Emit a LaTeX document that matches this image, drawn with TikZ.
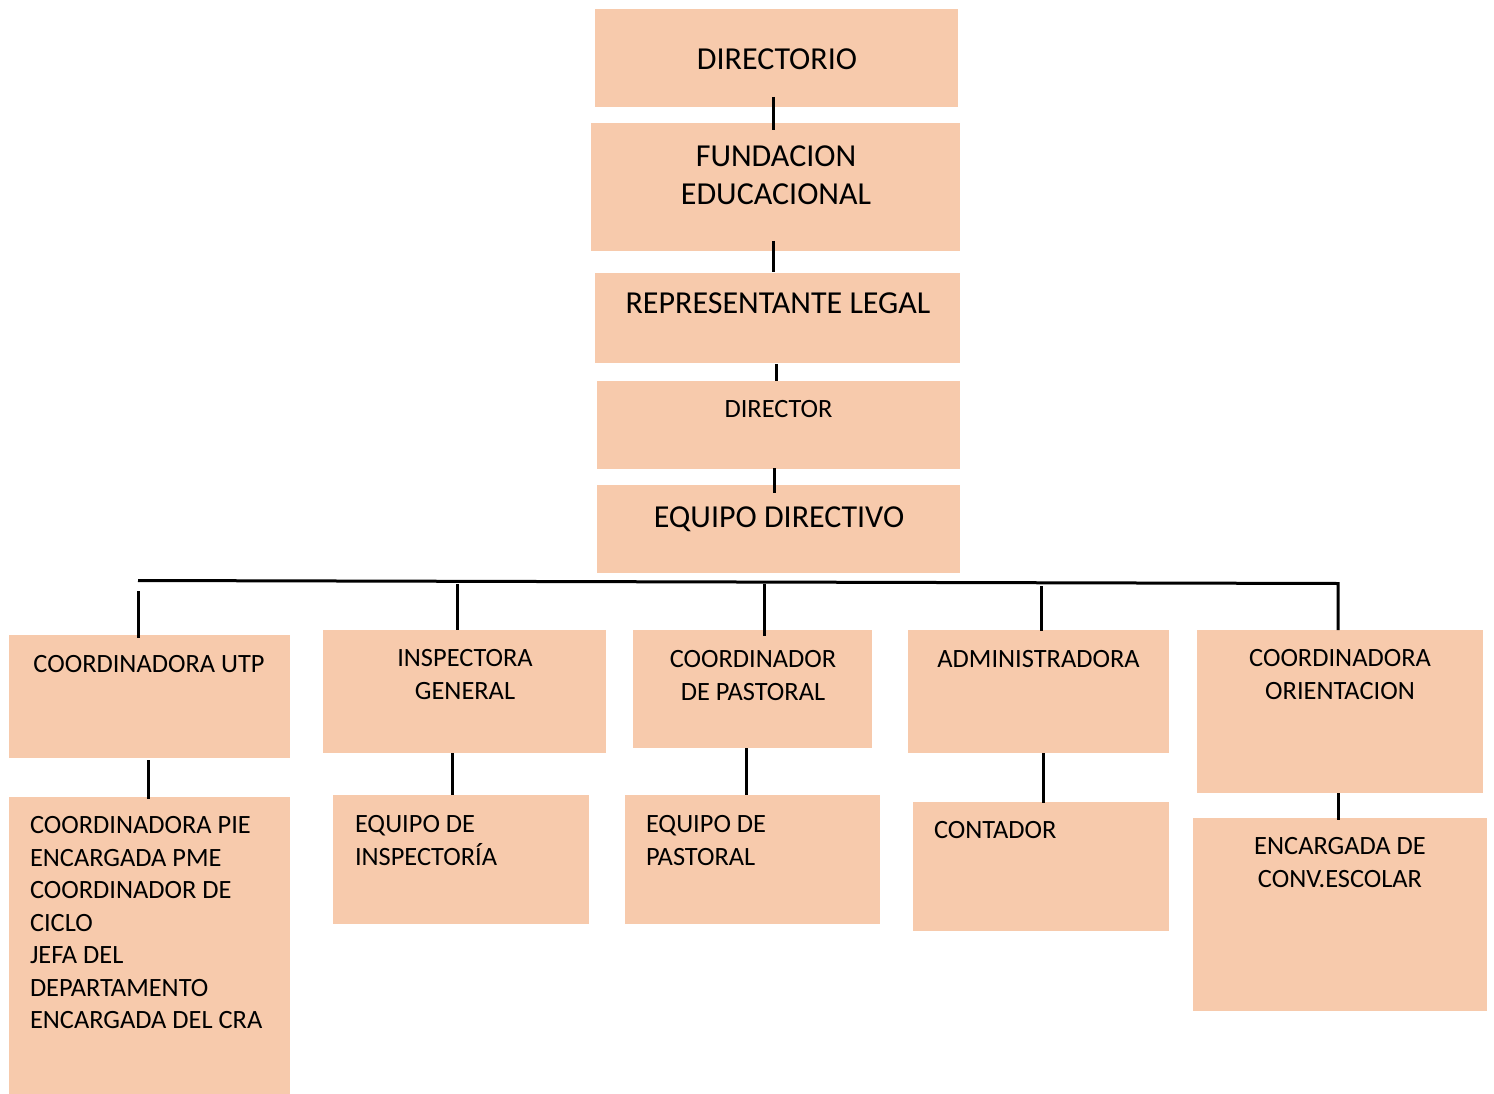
\documentclass[tikz,border=0pt]{standalone}
\usepackage{fontspec}
\setmainfont{Carlito}
\definecolor{boxc}{HTML}{F7CAAC}
\tikzset{
  box/.style={fill=boxc, draw=none, inner sep=0pt, outer sep=0pt},
  big/.style={font=\fontsize{32}{38}\selectfont, inner sep=0pt, outer sep=0pt},
  small/.style={font=\fontsize{26.4}{32.5}\selectfont, inner sep=0pt, outer sep=0pt},
  link/.style={line width=3pt, black}
}
\begin{document}
\begin{tikzpicture}[x=1pt, y=-1pt]
\useasboundingbox (0,0) rectangle (1494,1094);
% top chain boxes
\node[box, minimum width=363pt, minimum height=98pt]  (dir)  at (776.5,58) {};
\node[box, minimum width=369pt, minimum height=128pt] (fund) at (775.5,187) {};
\node[box, minimum width=365pt, minimum height=90pt]  (rep)  at (777.5,318) {};
\node[box, minimum width=363pt, minimum height=88pt]  (dtor) at (778.5,425) {};
\node[box, minimum width=363pt, minimum height=88pt]  (eqd)  at (778.5,529) {};
% second level
\node[box, minimum width=281pt, minimum height=123pt] (utp)  at (149.5,696.5) {};
\node[box, minimum width=283pt, minimum height=123pt] (insp) at (464.5,691.5) {};
\node[box, minimum width=239pt, minimum height=118pt] (cpas) at (752.5,689) {};
\node[box, minimum width=261pt, minimum height=123pt] (adm)  at (1038.5,691.5) {};
\node[box, minimum width=286pt, minimum height=163pt] (cori) at (1340,711.5) {};
% third level
\node[box, minimum width=281pt, minimum height=297pt] (pie)  at (149.5,945.5) {};
\node[box, minimum width=256pt, minimum height=129pt] (eins) at (461,859.5) {};
\node[box, minimum width=255pt, minimum height=129pt] (epas) at (752.5,859.5) {};
\node[box, minimum width=256pt, minimum height=129pt] (cont) at (1041,866.5) {};
\node[box, minimum width=294pt, minimum height=193pt] (conv) at (1340,914.5) {};

% texts
\node[big, anchor=north] (tdir) at (777,49) {DIRECTORIO};
\node[big, anchor=north, align=center] (tfund) at (776,145.5) {FUNDACION\\EDUCACIONAL};
\node[big, anchor=north] (trep) at (778,293) {REPRESENTANTE LEGAL};
\node[small, anchor=north] (tdtor) at (778.5,400) {DIRECTOR};
\node[big, anchor=north] (teqd) at (779,507) {EQUIPO DIRECTIVO};
\node[small, anchor=north] (tutp) at (149,655) {COORDINADORA UTP};
\node[small, anchor=north, align=center] (tinsp) at (465,649.5) {INSPECTORA\\GENERAL};
\node[small, anchor=north, align=center] (tcpas) at (753,650.5) {COORDINADOR\\DE PASTORAL};
\node[small, anchor=north] (tadm) at (1038.5,650.5) {ADMINISTRADORA};
\node[small, anchor=north, align=center] (tcori) at (1340,649.5) {COORDINADORA\\ORIENTACION};
\node[small, anchor=north west, align=left] (tpie) at (30,816.5) {COORDINADORA PIE\\ENCARGADA PME\\COORDINADOR DE\\CICLO\\JEFA DEL\\DEPARTAMENTO\\ENCARGADA DEL CRA};
\node[small, anchor=north west, align=left] (teins) at (355,815.5) {EQUIPO DE\\INSPECTORÍA};
\node[small, anchor=north west, align=left] (tepas) at (646,815.5) {EQUIPO DE\\PASTORAL};
\node[small, anchor=north west] (tcont) at (934,821.5) {CONTADOR};
\node[small, anchor=north, align=center] (tconv) at (1340,837.5) {ENCARGADA DE\\CONV.ESCOLAR};

% top chain connectors
\draw[link] ([shift={(-3.5,-10)}]dir.south) -- ([shift={(-2.5,7)}]fund.north);
\draw[link] ([shift={(-2.5,-10)}]fund.south) -- ([shift={(-4.5,-1)}]rep.north);
\draw[link] ([shift={(-1.5,1)}]rep.south) -- ([shift={(-2.5,0)}]dtor.north);
\draw[link] ([shift={(-4.5,-1)}]dtor.south) -- ([shift={(-4.5,8)}]eqd.north);

% bus
\coordinate (busL) at (138,580.5);
\coordinate (busR) at (1338,583.5);
\draw[link] (busL) -- (busR) -- (busR |- cori.north);
\draw[link] ([shift={(-11.5,-44)}]utp.north) -- ([shift={(-11.5,3)}]utp.north);
\draw[link] ([shift={(-7.5,-46)}]insp.north) -- ([shift={(-7.5,0)}]insp.north);
\draw[link] ([shift={(11.5,-46)}]cpas.north) -- ([shift={(11.5,6)}]cpas.north);
\draw[link] ([shift={(2.5,-44)}]adm.north) -- ([shift={(2.5,1)}]adm.north);

% second to third level
\draw[link] ([shift={(-1,2)}]utp.south) -- ([shift={(-1,2)}]pie.north);
\draw[link] ([shift={(-12.5,0)}]insp.south) -- ([shift={(-9,0)}]eins.north);
\draw[link] ([shift={(-6.5,0)}]cpas.south) -- ([shift={(-6.5,0)}]epas.north);
\draw[link] ([shift={(4.5,0)}]adm.south) -- ([shift={(2,1)}]cont.north);
\draw[link] ([shift={(-2,0)}]cori.south) -- ([shift={(-2,2)}]conv.north);
\end{tikzpicture}
\end{document}
